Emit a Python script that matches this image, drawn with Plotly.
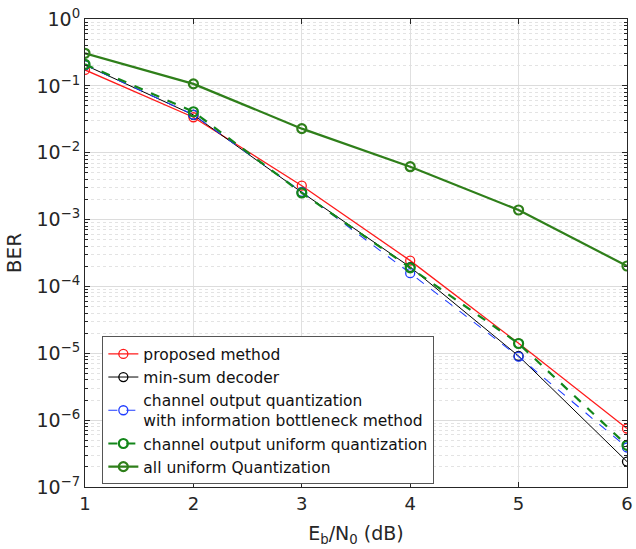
import plotly.graph_objects as go

ebn0 = [1, 2, 3, 4, 5, 6]
proposed = [0.173, 0.0339, 0.00321, 0.000243, 1.41e-5, 7.5e-7]
min_sum = [0.205, 0.0367, 0.00255, 0.000195, 9.1e-6, 2.4e-7]
ib_quant = [0.205, 0.037, 0.0026, 0.000158, 8.9e-6, 3.9e-7]
uni_out = [0.21, 0.041, 0.0025, 0.000190, 1.4e-5, 4.2e-7]
all_uni = [0.307, 0.107, 0.0229, 0.00618, 0.00139, 0.000202]

y_exps = [0, -1, -2, -3, -4, -5, -6, -7]
x_ticks = [1, 2, 3, 4, 5, 6]

FONT = "DejaVu Sans, sans-serif"

fig = go.Figure()

def add(y, name, color, width, dash, msize=9):
    fig.add_trace(go.Scatter(
        x=ebn0, y=y, name=name, mode="lines+markers",
        line=dict(color=color, width=width, dash=dash),
        marker=dict(symbol="circle-open", size=msize, color=color,
                    line=dict(width=width if width > 1.2 else 1.3, color=color)),
    ))

add(proposed, "proposed method", "#ff1a1a", 1.3, "solid")
add(min_sum, "min-sum decoder", "#000000", 1.0, "solid")
add(ib_quant, "channel output quantization<br>with information bottleneck method", "#1f3cff", 1.1, "dash")
add(uni_out, "channel output uniform quantization", "#13861a", 2.2, "dash")
add(all_uni, "all uniform Quantization", "#2f7f1a", 2.2, "solid")

ytickvals = [10.0 ** e for e in y_exps]
yticktext = ["10<sup>%d</sup>" % e if e == 0 else "10<sup>\u2212%d</sup>" % (-e) for e in y_exps]
minor_vals = [m * 10.0 ** e for e in range(-7, 0) for m in range(2, 10)]

fig.update_layout(
    width=636, height=549,
    margin=dict(l=85, r=3, t=19, b=62),
    paper_bgcolor="white", plot_bgcolor="white",
    font=dict(family=FONT, size=17, color="#262626"),
    showlegend=True,
    legend=dict(
        x=0.032, y=0.322, xanchor="left", yanchor="top",
        bgcolor="white", bordercolor="#555555", borderwidth=1,
        font=dict(family=FONT, size=15.5, color="#111111"),
        tracegroupgap=0, itemwidth=30,
    ),
    xaxis=dict(
        range=[0.9999, 6.0001], tickmode="array", tickvals=x_ticks,
        ticktext=[str(v) for v in x_ticks],
        ticklabeloverflow="allow",
        showgrid=True, gridcolor="#e0e0e0", gridwidth=1,
        showline=True, linecolor="#262626", linewidth=1, mirror="allticks",
        ticks="inside", ticklen=5, tickcolor="#262626", zeroline=False,
        tickfont=dict(size=18),
        title=dict(text="E<sub>b</sub>/N<sub>0</sub> (dB)", font=dict(size=19), standoff=14),
    ),
    yaxis=dict(
        type="log", range=[-7, 0], tickmode="array", tickvals=ytickvals,
        ticktext=yticktext,
        showgrid=True, gridcolor="#dcdcdc", gridwidth=1,
        showline=True, linecolor="#262626", linewidth=1, mirror="allticks",
        ticks="inside", ticklen=5, tickcolor="#262626", zeroline=False,
        tickfont=dict(size=19),
        minor=dict(tickmode="array", tickvals=minor_vals, showgrid=True,
                   gridcolor="#e3e3e3", griddash="dot", gridwidth=1,
                   ticks="inside", ticklen=3, tickcolor="#262626"),
        title=dict(text="BER", font=dict(size=20), standoff=9),
    ),
)

fig.write_html("out.html")
